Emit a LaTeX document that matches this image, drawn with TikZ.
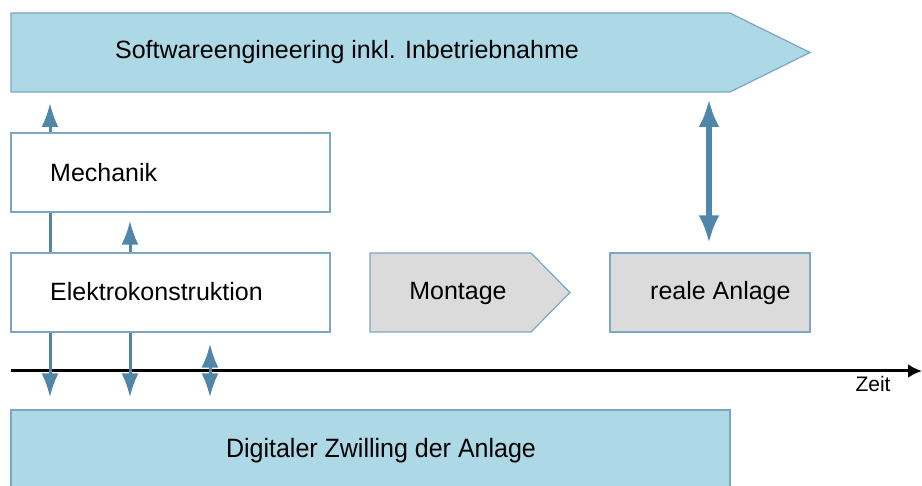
\documentclass[tikz,border=0pt]{standalone}
\usepackage{fontspec}
\setmainfont{Liberation Sans}
\usetikzlibrary{arrows.meta,backgrounds}
\definecolor{arrowblue}{HTML}{5087A9}
\definecolor{edgeblue}{HTML}{7BA6C4}
\definecolor{fillblue}{HTML}{ADD8E6}
\definecolor{fillgray}{HTML}{DBDBDB}
\tikzset{
  boxedge/.style={draw=edgeblue, line width=1.2pt},
  whitebox/.style={boxedge, fill=white, rectangle, inner sep=0pt},
  graybox/.style={boxedge, fill=fillgray, rectangle, inner sep=0pt},
  txt/.style={font=\fontsize{25}{30}\selectfont, inner sep=0pt, anchor=base},
  thinhead/.tip={Latex[length=24pt,width=17pt]},
  thickhead/.tip={Latex[length=28pt,width=21pt]},
  thinarr/.style={draw=arrowblue, line width=3pt, -thinhead},
  thinboth/.style={draw=arrowblue, line width=3pt, thinhead-thinhead},
  thickboth/.style={draw=arrowblue, line width=6pt, thickhead-thickhead},
  timeline/.style={draw=black, line width=3pt, -{Latex[length=14pt,width=14pt]}}
}
\begin{document}
\begin{tikzpicture}[x=1pt,y=-1pt]
\useasboundingbox (0,0) rectangle (922,486);

% Softwareengineering pentagon
\draw[boxedge, fill=fillblue] (11,13) -- (730,13) -- (810,52.5) -- (730,92) -- (11,92) -- cycle;
\coordinate (softbottom) at (370,92);
\node[txt] (soft) at (347,59) {Softwareengineering inkl. Inbetriebnahme};

% Mechanik
\node[whitebox, minimum width=319pt, minimum height=79pt] (mech) at (170.5,172.5) {};
\node[txt, anchor=base west] (mechtext) at (50,181.5) {Mechanik};

% Elektrokonstruktion
\node[whitebox, minimum width=319pt, minimum height=79pt] (elek) at (170.5,292.5) {};
\node[txt, anchor=base west] (elektext) at (50,301) {Elektrokonstruktion};

% Montage
\draw[boxedge, fill=fillgray] (370,253) -- (531,253) -- (570,292.5) -- (531,332) -- (370,332) -- cycle;
\node[txt] (mont) at (458,299.5) {Montage};

% reale Anlage
\node[graybox, minimum width=200pt, minimum height=79pt] (anl) at (710,292.5) {};
\node[txt, anchor=base west] (anltext) at (650,299.5) {reale Anlage};

% Digitaler Zwilling
\node[boxedge, fill=fillblue, rectangle, inner sep=0pt, minimum width=719pt, minimum height=80pt] (dig) at (370.5,450) {};
\node[txt] (digtext) at (381,457) {\scalebox{1}[1.06]{Digitaler Zwilling der Anlage}};

% time axis
\coordinate (tstart) at (11,371);
\coordinate (tend) at (922,371);
\draw[timeline] (tstart) -- (tend);
\node[inner sep=0pt, anchor=base, font=\fontsize{21}{25}\selectfont] (zeit) at (873,392) {Zeit};

% x positions of arrows
\coordinate (xa) at (50,0);
\coordinate (xb) at (130,0);
\coordinate (xc) at (210,0);
\coordinate (xd) at (709,0);

\begin{scope}[on background layer]
\draw[thinarr, shorten >=11pt] (elek.north -| xa) -- (softbottom -| xa);
\end{scope}
\draw[thinarr, shorten >=8pt] (elek.north -| xb) -- (mech.south -| xb);
\draw[thinarr, shorten >=12pt] (elek.south -| xa) -- (dig.north -| xa);
\draw[thinarr, shorten >=12pt] (elek.south -| xb) -- (dig.north -| xb);
\draw[thinboth, shorten <=11pt, shorten >=12pt] (elek.south -| xc) -- (dig.north -| xc);
\draw[thickboth, shorten <=9pt, shorten >=7pt] (anl.north -| xd) -- (softbottom -| xd);
\end{tikzpicture}
\end{document}
